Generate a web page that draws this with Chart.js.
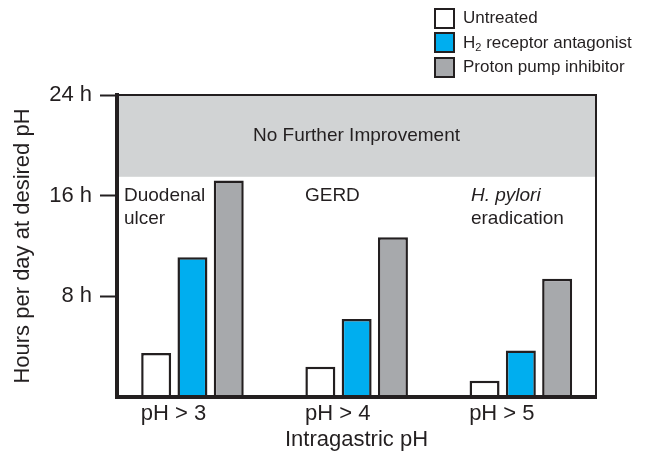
<!DOCTYPE html>
<html>
<head>
<meta charset="utf-8">
<script src="https://cdn.jsdelivr.net/npm/chart.js@4.4.1/dist/chart.umd.min.js"></script>
<style>
  html, body { margin: 0; padding: 0; background: #fff; }
  #wrap { position: relative; width: 646px; height: 453px; }
  #legend { position: absolute; left: 434px; top: 6px; font-family: "Liberation Sans", Arial, sans-serif; font-size: 17px; color: #231f20; }
  .item { display: flex; align-items: center; height: 24.5px; white-space: nowrap; }
  .box { width: 21px; height: 21px; box-sizing: border-box; border: 2.5px solid #231f20; margin-right: 8px; }
  sub { font-size: 11px; line-height: 0; vertical-align: -3px; }
</style>
</head>
<body>
<div id="wrap">
  <canvas id="chart" width="646" height="453"></canvas>
  <div id="legend"></div>
</div>
<script>
const INK = "#231f20";
const FONT = '"Liberation Sans", Arial, sans-serif';

// --- chart data ---
const phLabels = ["pH > 3", "pH > 4", "pH > 5"];
const untreated = [3.5, 2.4, 1.3];
const h2Antagonist = [11.1, 6.2, 3.7];
const protonPump = [17.2, 12.7, 9.4];
const seriesNames = ["Untreated", "H₂ receptor antagonist", "Proton pump inhibitor"];
const hourTicks = [8, 16, 24];
const noImprovement = [17.5, 24]; // hours, shaded band
const indications = [["Duodenal", "ulcer"], ["GERD"], ["H. pylori", "eradication"]];

const points = arr => arr.map((v, i) => ({ x: i, y: v }));

// band, frame and indication notes
const notesPlugin = {
  id: "notes",
  beforeDatasetsDraw(chart) {
    const { ctx, chartArea: a, scales: { y } } = chart;
    const top = y.getPixelForValue(noImprovement[1]);
    const bot = y.getPixelForValue(noImprovement[0]);
    ctx.save();
    ctx.fillStyle = "#d1d3d4";
    ctx.fillRect(a.left, top, a.right - a.left, bot - top);
    ctx.fillStyle = INK;
    ctx.font = "19px " + FONT;
    ctx.textAlign = "center";
    ctx.textBaseline = "middle";
    ctx.fillText("No Further Improvement", (a.left + a.right) / 2, (top + bot) / 2);
    ctx.restore();
  },
  afterDatasetsDraw(chart) {
    const { ctx, chartArea: a, scales: { x, y } } = chart;
    ctx.save();
    ctx.strokeStyle = INK;
    ctx.lineWidth = 2;
    ctx.beginPath();
    ctx.moveTo(a.left, a.top);
    ctx.lineTo(a.right, a.top);
    ctx.lineTo(a.right, a.bottom);
    ctx.stroke();

    const noteX = [-0.417, 0.685, 1.696];
    const base = y.getPixelForValue(noImprovement[0]) + 24;
    ctx.fillStyle = INK;
    ctx.textAlign = "left";
    ctx.textBaseline = "alphabetic";
    indications.forEach((lines, i) => {
      lines.forEach((t, j) => {
        ctx.font = (t === "H. pylori" ? "italic " : "") + "19px " + FONT;
        ctx.fillText(t, x.getPixelForValue(noteX[i]), base + j * 23.5);
      });
    });
    ctx.restore();
  }
};

// html legend so the subscript stays real text
const htmlLegend = {
  id: "htmlLegend",
  afterUpdate(chart) {
    const el = document.getElementById("legend");
    el.innerHTML = "";
    chart.options.plugins.legend.labels.generateLabels(chart).forEach(item => {
      const row = document.createElement("div");
      row.className = "item";
      const box = document.createElement("span");
      box.className = "box";
      box.style.background = item.fillStyle;
      const txt = document.createElement("span");
      txt.innerHTML = item.text.replace("₂", "<sub>2</sub>");
      row.appendChild(box);
      row.appendChild(txt);
      el.appendChild(row);
    });
  }
};

const barStyle = { borderColor: INK, borderWidth: 2.5, barPercentage: 0.826, categoryPercentage: 0.663 };

new Chart(document.getElementById("chart"), {
  type: "bar",
  data: {
    datasets: [
      { label: seriesNames[0], data: points(untreated), backgroundColor: "#ffffff", ...barStyle },
      { label: seriesNames[1], data: points(h2Antagonist), backgroundColor: "#00aeef", ...barStyle },
      { label: seriesNames[2], data: points(protonPump), backgroundColor: "#a7a9ac", ...barStyle }
    ]
  },
  options: {
    responsive: false,
    animation: false,
    layout: { padding: { top: 95, right: 50, bottom: 0, left: 0 } },
    plugins: { legend: { display: false }, tooltip: { enabled: false } },
    scales: {
      x: {
        type: "linear",
        min: -0.4595,
        max: 2.4577,
        offset: false,
        grid: { display: false, drawTicks: false, offset: false },
        border: { display: true, width: 4, color: INK, z: 1 },
        ticks: {
          stepSize: 1, includeBounds: false, autoSkip: false, maxRotation: 0,
          padding: 4, labelOffset: -19, color: INK, font: { size: 22, family: FONT },
          callback: v => phLabels[v] ?? ""
        },
        title: { display: true, text: "Intragastric pH", color: INK, font: { size: 22, family: FONT }, padding: 0 },
        afterFit: s => { s.height = 56; }
      },
      y: {
        min: 0,
        max: 24,
        grid: {
          drawOnChartArea: false, drawTicks: true, tickLength: 17, tickWidth: 2,
          tickColor: c => (c.tick && c.tick.value === 0 ? "rgba(0,0,0,0)" : INK)
        },
        border: { display: true, width: 4, color: INK, z: 1 },
        ticks: {
          stepSize: 8, padding: 8, color: INK, font: { size: 22, family: FONT },
          callback: v => (hourTicks.includes(v) ? v + " h" : "")
        },
        title: { display: true, text: "Hours per day at desired pH", color: INK, font: { size: 22, family: FONT }, padding: { top: 10 } },
        afterFit: s => { s.width = 117; }
      }
    }
  },
  plugins: [notesPlugin, htmlLegend]
});
</script>
</body>
</html>
